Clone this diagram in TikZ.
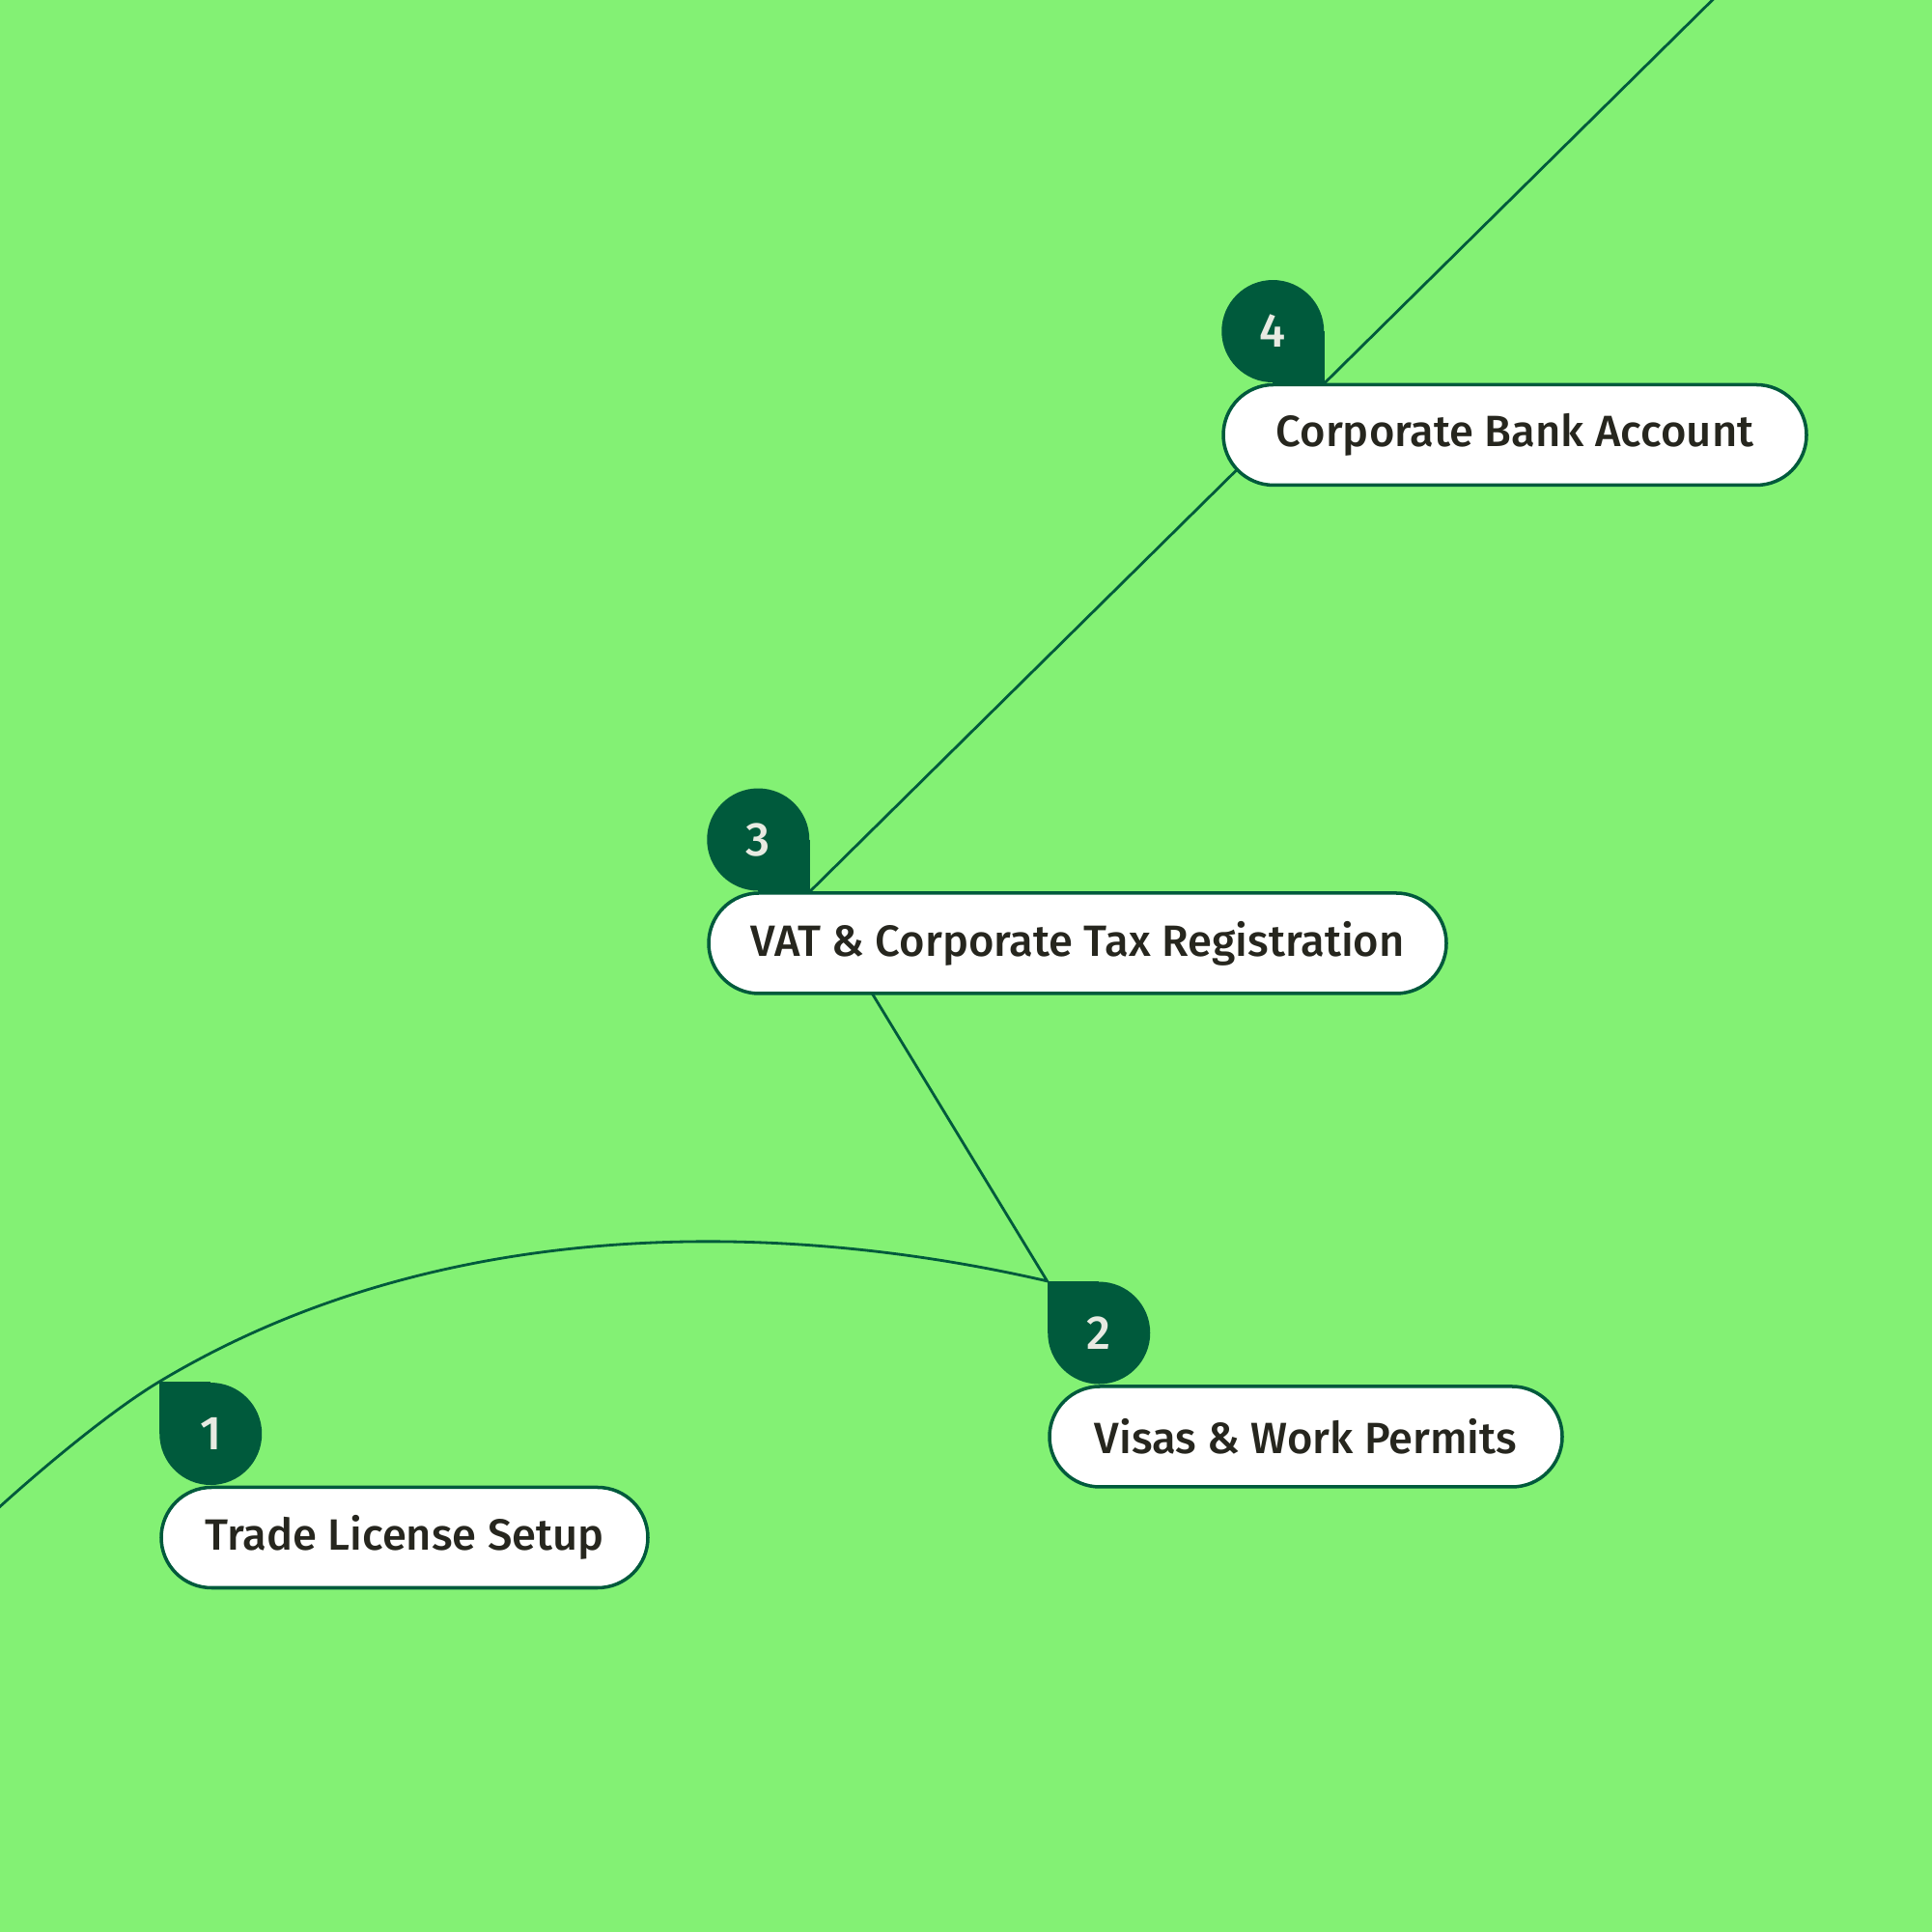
\documentclass[tikz,border=0pt]{standalone}
\usepackage{fontspec}
\setmainfont{Fira Sans}[UprightFont={* Medium}]
\usetikzlibrary{positioning, calc}

\definecolor{bggreen}{HTML}{83F174}
\definecolor{deepgreen}{HTML}{005A3C}
\definecolor{inkdark}{HTML}{26261E}
\definecolor{digitgray}{HTML}{E8EAE2}

\pgfdeclarelayer{bg}
\pgfdeclarelayer{edges}
\pgfsetlayers{bg,edges,main}

\begin{document}
\begin{tikzpicture}[
  pill/.style={draw=deepgreen, line width=1pt, fill=white, rounded corners=0.52cm,
               minimum height=1.04cm, inner sep=0pt, text=inkdark,
               font=\fontsize{12.9}{15}\selectfont},
  badge/.style={circle, fill=deepgreen, minimum size=1.06cm, inner sep=0pt,
                text=digitgray, font=\fontsize{14}{16}\selectfont},
  link/.style={draw=deepgreen, line width=0.8pt}
]

  % ========== FRAME ==========
  \useasboundingbox (0,0) rectangle (20.01,20.01);
  \clip (0,0) rectangle (20.01,20.01);
  \begin{pgfonlayer}{bg}
    \fill[bggreen] (0,0) rectangle (20.01,20.01);
  \end{pgfonlayer}

  % ========== STEPS ==========
  \node[pill, minimum width=5.04cm] (p1) at (4.19, 4.085) {Trade License Setup};
  \node[pill, minimum width=5.31cm] (p2) at (13.525, 5.13) {Visas \& Work Permits};
  \node[pill, minimum width=7.64cm] (p3) at (11.16, 10.24) {VAT \& Corporate Tax Registration};
  \node[pill, minimum width=6.04cm] (p4) at (15.69, 15.505) {Corporate Bank Account};

  % ========== BADGES ==========
  \node[badge, above=0pt of p1.north west, xshift=0.53cm] (b1) {1};
  \node[badge, above=0pt of p2.north west, xshift=0.53cm] (b2) {2};
  \node[badge, above=0pt of p3.north west, xshift=0.53cm] (b3) {3};
  \node[badge, above=0pt of p4.north west, xshift=0.53cm] (b4) {4};

  % square corners of the badges
  \coordinate (c1) at (b1.west |- b1.north);
  \coordinate (c2) at (b2.west |- b2.north);
  \coordinate (c3) at (b3.east |- b3.south);
  \coordinate (c4) at (b4.east |- b4.south);
  \coordinate (c0) at (-0.75, 3.68);
  \coordinate (c5) at ($(c3)!2.1!(c4)$);

  % ========== CONNECTORS ==========
  \begin{pgfonlayer}{edges}
    \fill[deepgreen] (b1.center) rectangle (c1);
    \fill[deepgreen] (b2.center) rectangle (c2);
    \fill[deepgreen] (b3.center) rectangle (c3);
    \fill[deepgreen] (b4.center) rectangle (c4);

    \draw[link] (c0) .. controls +(47:0.8) and +(211:0.8) .. (c1)
                     .. controls +(31:3.57) and +(167:2.55) .. (c2)
                     -- (c3) -- (c4) -- (c5);
  \end{pgfonlayer}

\end{tikzpicture}
\end{document}
